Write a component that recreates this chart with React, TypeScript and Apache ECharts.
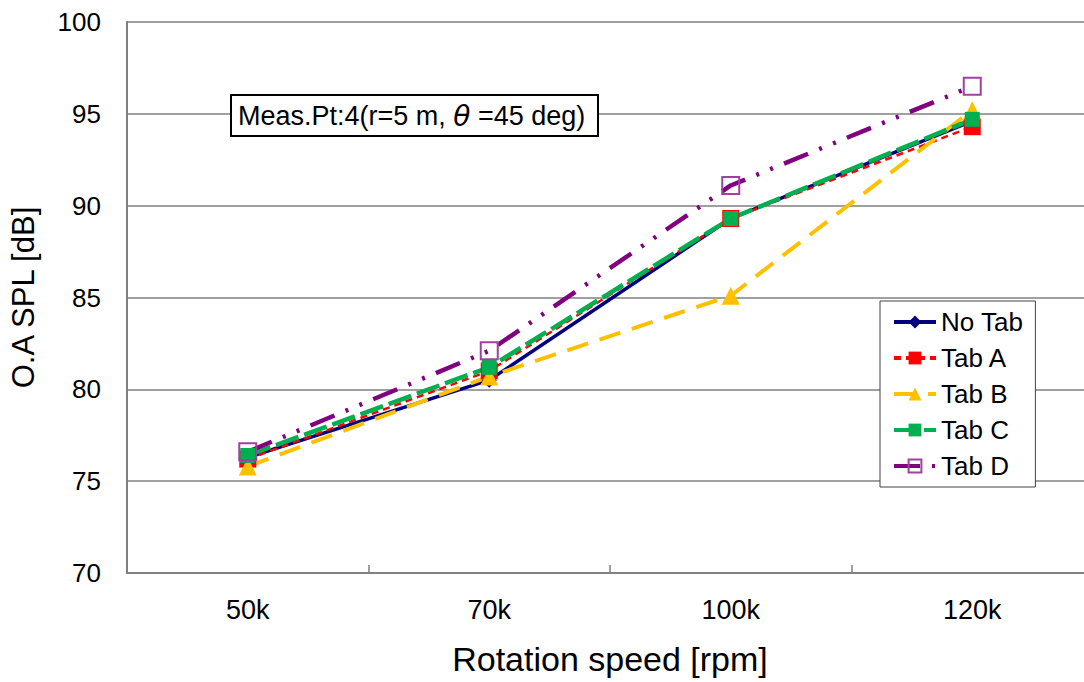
import React, { useEffect, useRef } from "react";
import * as echarts from "echarts";

const categories = ["50k", "70k", "100k", "120k"];
const noTab = [76.3, 80.5, 89.3, 94.6];
const tabA = [76.2, 81.0, 89.3, 94.3];
const tabB = [75.8, 80.7, 85.1, 95.2];
const tabC = [76.4, 81.2, 89.3, 94.7];
const tabD = [76.6, 82.1, 91.1, 96.5];

const FONT = "Liberation Sans";

export default function App() {
  const ref = useRef<HTMLDivElement>(null);
  useEffect(() => {
    if (!ref.current) return;
    const chart = echarts.init(ref.current, null, { renderer: "svg" });
    chart.setOption({
      animation: false,
      backgroundColor: "#ffffff",
      textStyle: { fontFamily: FONT },
      grid: { left: 127, top: 22, right: 7, bottom: 109, containLabel: false },
      xAxis: {
        type: "category",
        data: categories,
        boundaryGap: true,
        name: "Rotation speed [rpm]",
        nameLocation: "middle",
        nameGap: 69,
        nameTextStyle: { fontSize: 34, color: "#000", fontFamily: FONT },
        axisLine: { lineStyle: { color: "#808080", width: 2 } },
        axisTick: { show: true, inside: true, length: 8, lineStyle: { color: "#808080", width: 1.5 } },
        axisLabel: { fontSize: 27, color: "#000", margin: 23, fontFamily: FONT },
      },
      yAxis: {
        type: "value",
        min: 70,
        max: 100,
        interval: 5,
        name: "O.A SPL [dB]",
        nameLocation: "middle",
        nameGap: 88,
        nameTextStyle: { fontSize: 31, color: "#000", fontFamily: FONT },
        axisLine: { show: true, lineStyle: { color: "#808080", width: 2 } },
        axisTick: { show: false },
        splitLine: { show: true, lineStyle: { color: "#808080", width: 1.5 } },
        axisLabel: { fontSize: 26, color: "#000", margin: 26, fontFamily: FONT },
      },
      legend: {
        orient: "vertical",
        left: 880,
        top: 301,
        padding: [8, 12, 8, 12],
        backgroundColor: "#ffffff",
        borderColor: "#404040",
        borderWidth: 1,
        itemWidth: 42,
        itemHeight: 16,
        itemGap: 10,
        lineStyle: { width: 4 },
        textStyle: { fontSize: 26, color: "#000", fontFamily: FONT },
        data: ["No Tab", "Tab A", "Tab B", "Tab C", "Tab D"],
      },
      graphic: [
        {
          type: "rect",
          shape: { x: 231, y: 95, width: 367, height: 41 },
          style: { fill: "#ffffff", stroke: "#000000", lineWidth: 2 },
          z: 100,
        },
        {
          type: "text",
          x: 238,
          y: 116,
          style: {
            text: "Meas.Pt:4(r=5 m, {t|θ} =45 deg)",
            fontSize: 27,
            fontFamily: FONT,
            fill: "#000",
            verticalAlign: "middle",
            textAlign: "left",
            rich: {
              t: { fontSize: 28, fontFamily: "DejaVu Sans", fontStyle: "italic", fill: "#000" },
            },
          },
          z: 101,
        },
      ],
      series: [
        {
          name: "No Tab",
          type: "line",
          data: noTab,
          symbol: "diamond",
          symbolSize: 15,
          lineStyle: { color: "#000080", width: 3.5, type: "solid" },
          itemStyle: { color: "#000080" },
        },
        {
          name: "Tab A",
          type: "line",
          data: tabA,
          symbol: "rect",
          symbolSize: 17,
          lineStyle: { color: "#FF0000", width: 2.5, type: [7, 5] },
          itemStyle: { color: "#FF0000" },
        },
        {
          name: "Tab B",
          type: "line",
          data: tabB,
          symbol: "triangle",
          symbolSize: 18,
          lineStyle: { color: "#FFC000", width: 4, type: [22, 12] },
          itemStyle: { color: "#FFC000" },
        },
        {
          name: "Tab C",
          type: "line",
          data: tabC,
          symbol: "rect",
          symbolSize: 15,
          lineStyle: { color: "#00B050", width: 4.5, type: [24, 6] },
          itemStyle: { color: "#00B050" },
        },
        {
          name: "Tab D",
          type: "line",
          data: tabD,
          symbol: "rect",
          symbolSize: 17,
          lineStyle: { color: "#800080", width: 4.5, type: [26, 12, 3, 12, 3, 12] },
          itemStyle: { color: "rgba(0,0,0,0)", borderColor: "#A040A0", borderWidth: 2 },
        },
      ],
    });
    return () => chart.dispose();
  }, []);
  return (
    <div style={{ position: "absolute", left: 0, top: 0, width: 1084, height: 682, overflow: "hidden" }}>
      <div ref={ref} style={{ width: 1100, height: 682 }} />
    </div>
  );
}
